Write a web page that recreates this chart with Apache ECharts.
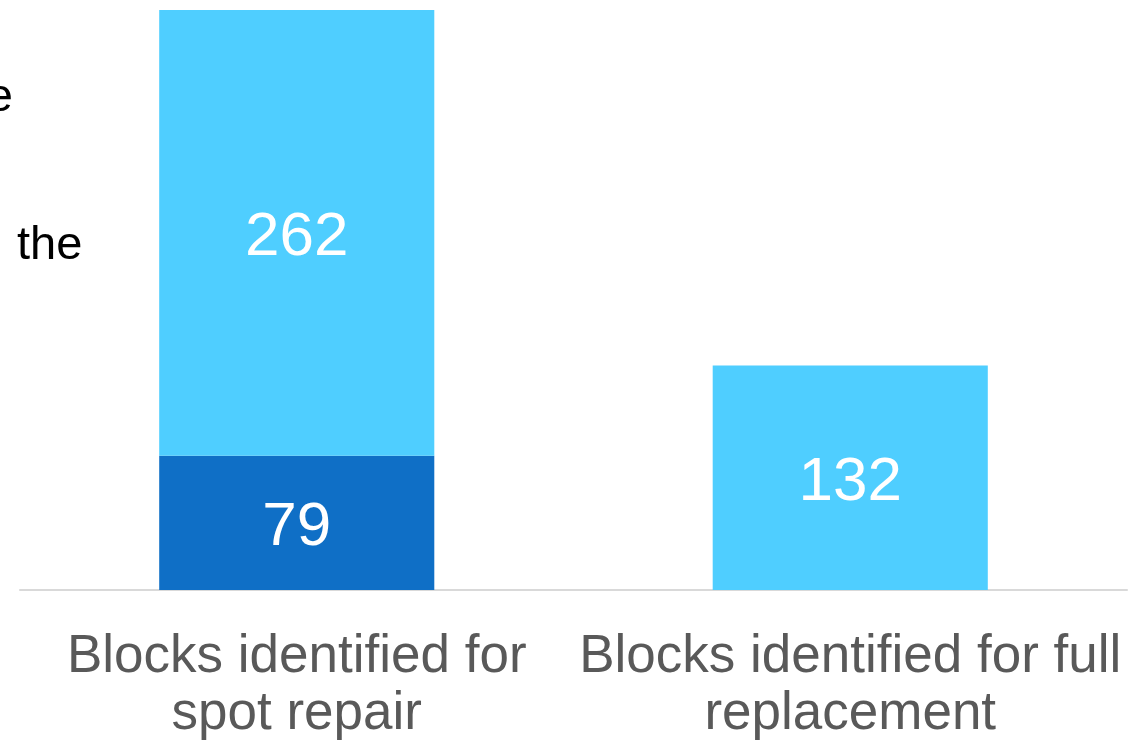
<!DOCTYPE html>
<html>
<head>
<meta charset="utf-8">
<script src="https://cdn.jsdelivr.net/npm/echarts@6/dist/echarts.min.js"></script>
<style>
html,body{margin:0;padding:0;background:#fff;}
#chart{width:1148px;height:741px;}
</style>
</head>
<body>
<div id="chart"></div>
<script>
const categories = ['Blocks identified for\nspot repair', 'Blocks identified for full\nreplacement'];
const darkValues = [79, null];
const lightValues = [262, 132];

const chart = echarts.init(document.getElementById('chart'));
const FONT = '"Liberation Sans", Arial, sans-serif';
chart.setOption({
  animation: false,
  grid: { left: 20, right: 21, top: 10, bottom: 151, containLabel: false, outerBoundsMode: 'none' },
  xAxis: {
    type: 'category',
    data: categories,
    axisLine: { lineStyle: { color: '#D9D9D9', width: 2 } },
    axisTick: { show: false },
    axisLabel: { color: '#595959', fontSize: 53, fontFamily: FONT, lineHeight: 57, margin: 39, interval: 0 }
  },
  yAxis: {
    type: 'value', min: 0, max: 341, show: false, splitLine: { show: false }
  },
  series: [
    {
      type: 'bar', stack: 'a', data: darkValues, barWidth: '49.7%',
      itemStyle: { color: '#0F6FC6' },
      label: { show: true, position: 'inside', offset: [0, 5], color: '#fff', fontSize: 62, fontFamily: FONT }
    },
    {
      type: 'bar', stack: 'a', data: lightValues, barWidth: '49.7%',
      itemStyle: { color: '#4FCEFF' },
      label: { show: true, position: 'inside', offset: [0, 5], color: '#fff', fontSize: 62, fontFamily: FONT }
    }
  ],
  graphic: [
    { type: 'text', x: 13, y: 98, style: { text: 'e', fill: '#000', font: '47px ' + FONT, textAlign: 'right', textVerticalAlign: 'middle', align: 'right', verticalAlign: 'middle' } },
    { type: 'text', x: 17, y: 246, style: { text: 'the', fill: '#000', font: '47px ' + FONT, textAlign: 'left', textVerticalAlign: 'middle', align: 'left', verticalAlign: 'middle' } }
  ]
});
</script>
</body>
</html>
